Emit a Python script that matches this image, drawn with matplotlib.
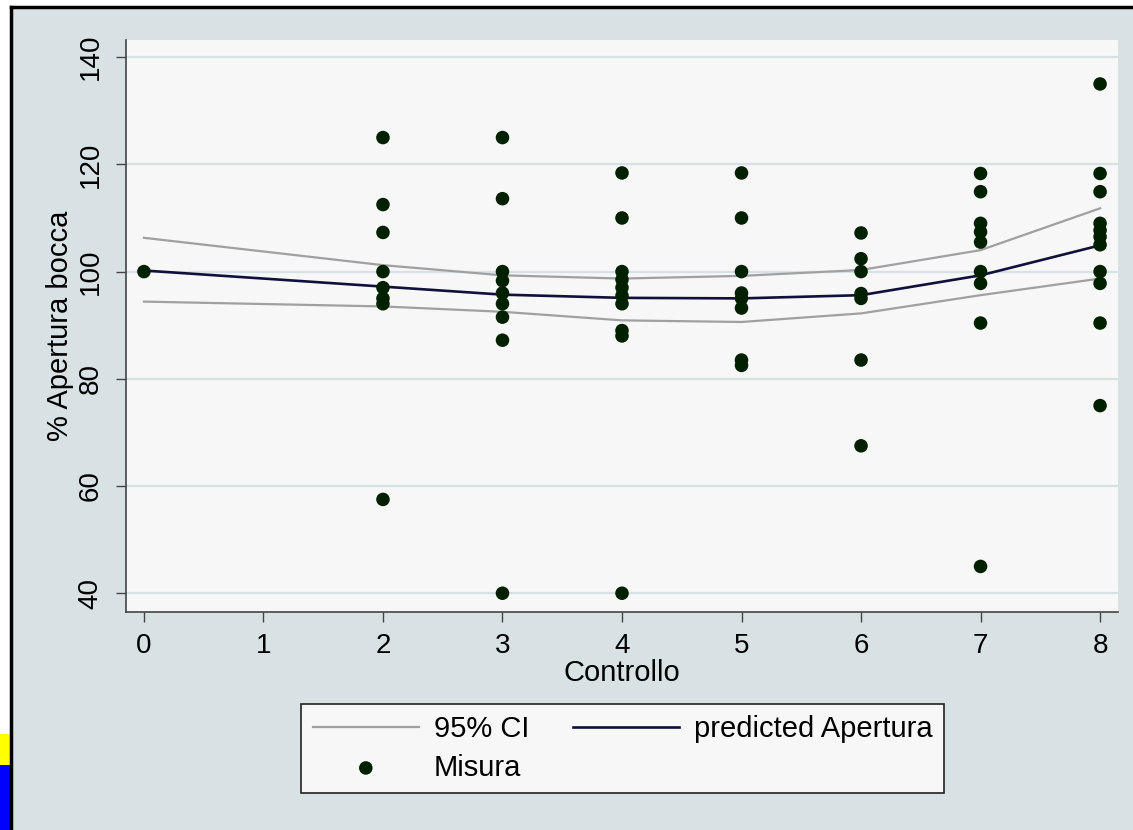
import matplotlib.pyplot as plt
from matplotlib.patches import Rectangle
from matplotlib.lines import Line2D

plt.rcParams['font.family'] = ['Liberation Sans', 'DejaVu Sans']

# Measured values (% mouth opening) by control visit
x0 = [100]
x2 = [125, 112.5, 107.3, 100, 97, 95, 94, 57.5]
x3 = [125, 113.6, 100, 98.3, 96, 94, 91.5, 87.2, 40]
x4 = [118.4, 110, 100, 98.5, 97, 95.5, 94, 89, 88, 40]
x5 = [118.4, 110, 100, 96, 95, 93.2, 83.5, 82.5]
x6 = [107.2, 102.4, 100, 95.9, 95, 83.5, 67.5]
x7 = [118.3, 114.9, 109, 107.4, 105.5, 100, 97.8, 90.4, 45]
x8 = [135, 118.3, 114.9, 109, 107.7, 106.5, 105, 100, 97.8, 90.4, 75]
groups = {0: x0, 2: x2, 3: x3, 4: x4, 5: x5, 6: x6, 7: x7, 8: x8}

# fitted line and confidence band
fit_x = [0, 2, 3, 4, 5, 6, 7, 8]
predicted = [100.2, 97.2, 95.7, 95.1, 95.0, 95.6, 99.3, 104.9]
ci_upper = [106.3, 101.2, 99.3, 98.7, 99.2, 100.3, 104.0, 111.8]
ci_lower = [94.4, 93.5, 92.5, 90.9, 90.6, 92.2, 95.6, 98.7]

xticks = [0, 1, 2, 3, 4, 5, 6, 7, 8]
yticks = [40, 60, 80, 100, 120, 140]

bg = '#d8e2e5'
plot_bg = '#f7f7f7'
dot_col = '#002000'

fig = plt.figure(figsize=(11.33, 8.30), dpi=100, facecolor='white')

# graph region background + frame bits from the original screenshot
fig.patches.append(Rectangle((12 / 1133, 0), 1, (830 - 8) / 830, transform=fig.transFigure,
                             facecolor=bg, edgecolor='none', zorder=-10))
fig.lines.append(Line2D([11 / 1133, 1], [(830 - 7) / 830] * 2, transform=fig.transFigure,
                        color='black', lw=2.5))
fig.lines.append(Line2D([11 / 1133] * 2, [0, (830 - 7) / 830], transform=fig.transFigure,
                        color='black', lw=2.5))
fig.patches.append(Rectangle((0, (830 - 765) / 830), 10 / 1133, 31 / 830, transform=fig.transFigure,
                             facecolor='#ffff00', edgecolor='none'))
fig.patches.append(Rectangle((0, 0), 10 / 1133, (830 - 765) / 830, transform=fig.transFigure,
                             facecolor='#0000ff', edgecolor='none'))

ax = fig.add_axes([126 / 1133, (830 - 612) / 830, (1118 - 126) / 1133, (612 - 40) / 830])
ax.set_facecolor(plot_bg)

for y in yticks:
    ax.axhline(y, color='#d6e1e4', lw=1.6, zorder=0)

ax.plot(fit_x, ci_upper, color='#a0a0a0', lw=1.6, label='95% CI', zorder=2)
ax.plot(fit_x, ci_lower, color='#a0a0a0', lw=1.6, zorder=2)
ax.plot(fit_x, predicted, color='#10103a', lw=1.9, label='predicted Apertura', zorder=3)

first = True
for xv, vals in groups.items():
    ax.scatter([xv] * len(vals), vals, s=95, color=dot_col, edgecolors='none', zorder=4,
               label='Misura' if first else None)
    first = False

ax.set_xlim(-0.15, 8.15)
ax.set_ylim(36.5, 143.2)
ax.set_xticks(xticks)
ax.set_yticks(yticks)
ax.set_yticklabels([str(v) for v in yticks], rotation=90, va='center')
ax.tick_params(axis='both', length=7, width=1, color='#444444', labelsize=20)
ax.tick_params(axis='x', pad=8)
ax.tick_params(axis='y', pad=9)

for side in ['top', 'right']:
    ax.spines[side].set_visible(False)
for side in ['left', 'bottom']:
    ax.spines[side].set_color('#444444')
    ax.spines[side].set_linewidth(1.2)

ax.set_xlabel('Controllo', fontsize=21, labelpad=0)
ax.set_ylabel('% Apertura bocca', fontsize=21, labelpad=3)

handles, labels = ax.get_legend_handles_labels()
order = [labels.index('95% CI'), labels.index('Misura'), labels.index('predicted Apertura')]
leg = fig.legend([handles[i] for i in order], [labels[i] for i in order],
                 loc='center', bbox_to_anchor=(622.5 / 1133, (830 - 748.5) / 830),
                 ncol=2, fontsize=21, frameon=True, fancybox=False,
                 handlelength=3.65, handletextpad=0.5, columnspacing=1.5,
                 labelspacing=0.35, borderpad=0.4)
leg.get_frame().set_facecolor(plot_bg)
leg.get_frame().set_edgecolor('#222222')
leg.get_frame().set_linewidth(1.2)
leg.get_frame().set_alpha(1)

fig.savefig('out.png', dpi=100, facecolor=fig.get_facecolor())
